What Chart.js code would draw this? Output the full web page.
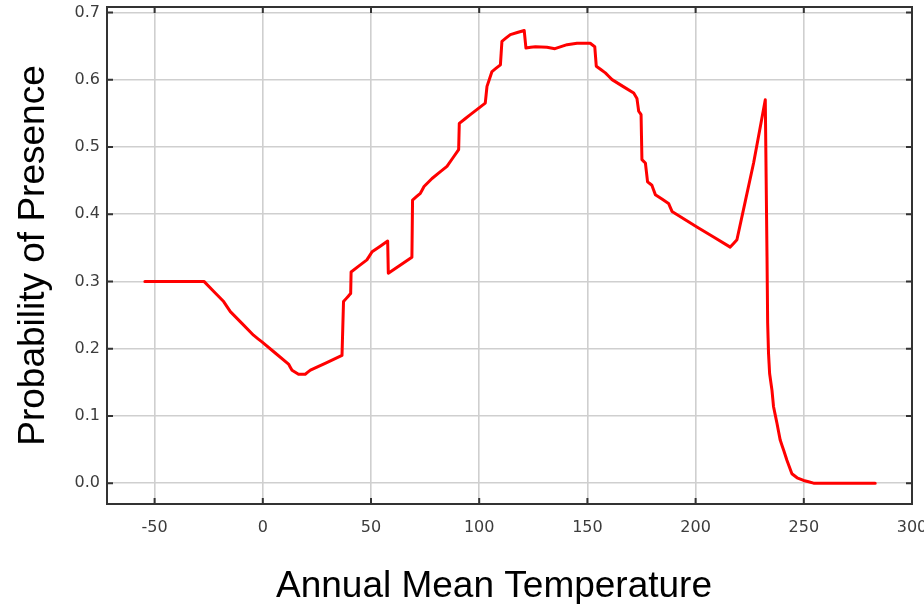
<!DOCTYPE html>
<html>
<head>
<meta charset="utf-8">
<title>Response curve – Annual Mean Temperature</title>
<script src="https://cdn.jsdelivr.net/npm/chart.js@4.4.1/dist/chart.umd.min.js"></script>
<style>
  html, body { margin: 0; padding: 0; background: #ffffff; }
  #wrap { width: 924px; height: 604px; }
</style>
</head>
<body>
<div id="wrap"><canvas id="chart" width="924" height="604"></canvas></div>
<script>
// Response curve of presence probability against annual mean temperature
const temperature = [
  -54.5, -27.2, -18.1, -15.0, -4.3, -0.4, 11.9, 13.5, 16.5, 19.6, 22.0, 36.6,
  37.3, 39.5, 40.6, 40.8, 48.1, 50.5, 57.7, 58.0, 68.9, 69.2, 72.8, 74.5,
  78.2, 85.1, 90.5, 90.8, 95.9, 102.8, 103.6, 105.9, 109.8, 110.5, 114.4, 120.8,
  121.6, 126.0, 131.3, 135.0, 140.6, 145.2, 151.3, 153.4, 154.1, 158.3, 161.4, 171.4,
  172.9, 173.7, 174.8, 175.2, 176.8, 177.8, 179.8, 181.4, 187.5, 189.1, 200.6, 216.0,
  219.1, 226.8, 232.2, 233.0, 233.3, 233.7, 234.2, 235.3, 236.0, 237.6, 239.1, 240.7,
  242.2, 244.5, 246.9, 249.9, 254.5, 283.0
];
const probability = [
  0.300, 0.300, 0.270, 0.255, 0.220, 0.210, 0.177, 0.168, 0.162, 0.162, 0.168, 0.190,
  0.270, 0.278, 0.282, 0.314, 0.332, 0.344, 0.360, 0.312, 0.336, 0.421, 0.431, 0.441,
  0.453, 0.471, 0.496, 0.535, 0.548, 0.565, 0.590, 0.612, 0.622, 0.657, 0.667, 0.673,
  0.647, 0.649, 0.648, 0.646, 0.652, 0.654, 0.654, 0.649, 0.620, 0.610, 0.600, 0.580,
  0.572, 0.553, 0.548, 0.481, 0.476, 0.448, 0.443, 0.429, 0.416, 0.404, 0.381, 0.351,
  0.362, 0.476, 0.570, 0.337, 0.238, 0.193, 0.163, 0.138, 0.114, 0.089, 0.064, 0.049,
  0.034, 0.014, 0.008, 0.004, 0.000, 0.000
];
const xTickValues = [-50, 0, 50, 100, 150, 200, 250, 300];
const yTickValues = [0.0, 0.1, 0.2, 0.3, 0.4, 0.5, 0.6, 0.7];
const xTitle = 'Annual Mean Temperature';
const yTitle = 'Probability of Presence';

const frameColor = '#333333';
const tickFont = { family: '"DejaVu Sans", Verdana, sans-serif', size: 16 };

// Closed frame around the plot with short tick marks pointing inwards on all sides
const framePlugin = {
  id: 'frame',
  beforeDatasetsDraw(chart) {
    const { ctx, chartArea: a, scales: { x, y } } = chart;
    const len = 6;
    ctx.save();
    ctx.strokeStyle = frameColor;
    ctx.lineWidth = 2;
    ctx.strokeRect(a.left, a.top, a.right - a.left, a.bottom - a.top);
    ctx.beginPath();
    xTickValues.forEach(v => {
      const px = x.getPixelForValue(v);
      if (px <= a.left + 1 || px >= a.right - 1) return;
      ctx.moveTo(px, a.bottom); ctx.lineTo(px, a.bottom - len);
      ctx.moveTo(px, a.top); ctx.lineTo(px, a.top + len);
    });
    yTickValues.forEach(v => {
      const py = y.getPixelForValue(v);
      ctx.moveTo(a.left, py); ctx.lineTo(a.left + len, py);
      ctx.moveTo(a.right, py); ctx.lineTo(a.right - len, py);
    });
    ctx.stroke();
    ctx.restore();
  },
  afterDraw(chart) {
    const { ctx } = chart;
    ctx.save();
    ctx.fillStyle = '#000000';
    ctx.font = '37px "Liberation Sans", Arial, sans-serif';
    ctx.textAlign = 'center';
    ctx.textBaseline = 'alphabetic';
    ctx.fillText(xTitle, 494, 597);
    ctx.restore();
  }
};

const points = temperature.map((t, i) => ({ x: t, y: probability[i] }));

new Chart(document.getElementById('chart'), {
  type: 'line',
  data: {
    datasets: [{
      data: points,
      borderColor: '#ff0000',
      borderWidth: 3,
      pointRadius: 0,
      pointHoverRadius: 0,
      // a near-zero tension keeps straight segments but avoids the per-pixel fast path
      tension: 0.0001,
      borderJoinStyle: 'round',
      borderCapStyle: 'round',
      fill: false
    }]
  },
  options: {
    responsive: false,
    animation: false,
    devicePixelRatio: 1,
    layout: { padding: { top: 7, right: 12, left: 0, bottom: 0 } },
    plugins: { legend: { display: false }, tooltip: { enabled: false } },
    scales: {
      x: {
        type: 'linear',
        min: -72,
        max: 300,
        afterBuildTicks: s => { s.ticks = xTickValues.map(v => ({ value: v })); },
        afterFit: s => { s.height = 100; s.paddingLeft = 0; s.paddingRight = 0; },
        ticks: {
          font: tickFont,
          color: '#3c3c3c',
          padding: 14,
          maxRotation: 0,
          autoSkip: false,
          callback: v => String(v)
        },
        grid: { color: '#cfcfcf', lineWidth: 1.6, drawTicks: false },
        border: { display: false }
      },
      y: {
        type: 'linear',
        min: -0.031,
        max: 0.708,
        afterBuildTicks: s => { s.ticks = yTickValues.map(v => ({ value: v })); },
        afterFit: s => { s.width = 107; s.paddingTop = 0; s.paddingBottom = 0; },
        ticks: {
          font: tickFont,
          color: '#3c3c3c',
          padding: 7,
          autoSkip: false,
          callback: v => Number(v).toFixed(1)
        },
        grid: { color: '#cfcfcf', lineWidth: 1.6, drawTicks: false },
        border: { display: false },
        title: {
          display: true,
          text: yTitle,
          color: '#000000',
          font: { family: '"Liberation Sans", Arial, sans-serif', size: 37, lineHeight: 1 },
          padding: { top: 15.7, bottom: 0 }
        }
      }
    }
  },
  plugins: [framePlugin]
});
</script>
</body>
</html>
